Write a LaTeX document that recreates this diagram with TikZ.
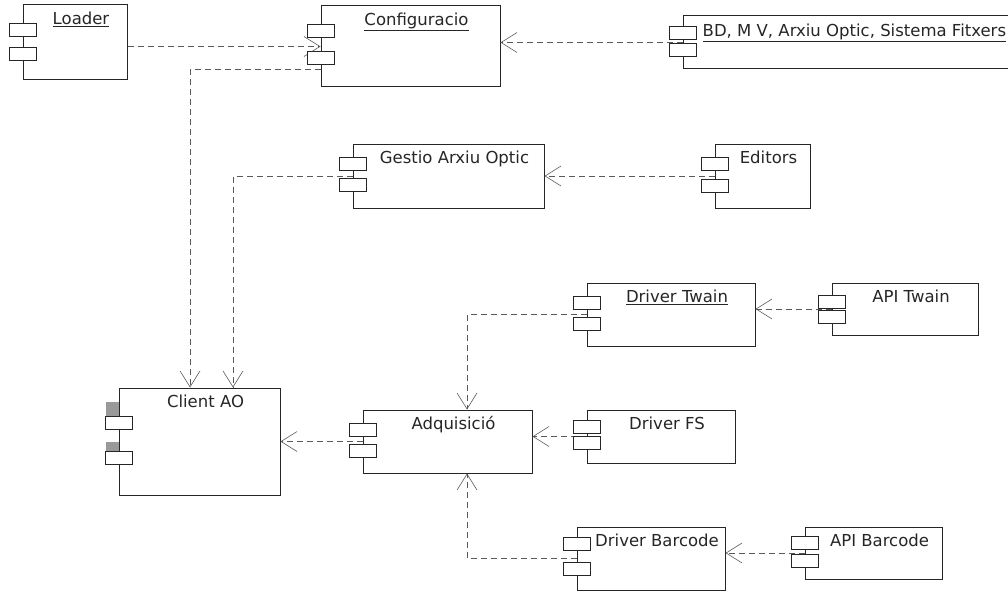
\documentclass[tikz,border=0pt]{standalone}
\usepackage{fontspec}
\setmainfont{DejaVu Sans}
\usepackage{tikz}
\usetikzlibrary{calc, positioning, arrows.meta}

\tikzset{
	comp/.style={draw=black!85, line width=1pt, fill=white, rectangle, inner sep=0pt},
	title/.style={anchor=north, inner sep=0pt, yshift=-7pt, xshift=6pt, text=black!85, font=\fontsize{16.5}{20}\selectfont},
	bdtitle/.style={anchor=north west, inner sep=0pt, yshift=-8pt, xshift=20pt, text=black!85, font=\fontsize{16.5}{20}\selectfont},
	port/.style={draw=black!85, line width=1pt, fill=white},
	dep/.style={draw=black!65, line width=0.8pt, dash pattern=on 6pt off 4pt, -{Straight Barb[length=16pt, width=20pt, line width=0.6pt]}}
}

\begin{document}
\begin{tikzpicture}[x=1pt, y=-1pt]
	
	\useasboundingbox (0,0) rectangle (1008,591);
	
	%// components
	\node[comp, minimum width=104pt, minimum height=75pt, label={[title]north:\underline{Loader}}] (loader) at (75,42.5) {};
	\node[comp, minimum width=179pt, minimum height=81pt, label={[title]north:\underline{Configuracio}}] (config) at (410.5,46.5) {};
	\node[comp, minimum width=357pt, minimum height=53pt, label={[bdtitle]north west:\underline{BD, M V, Arxiu Optic, Sistema Fitxers}}] (bd) at (861.5,42.5) {};
	\node[comp, minimum width=191pt, minimum height=64pt, label={[title]north:Gestio Arxiu Optic}] (gestio) at (448.5,176) {};
	\node[comp, minimum width=95pt, minimum height=64pt, label={[title]north:Editors}] (editors) at (762.5,176) {};
	\node[comp, minimum width=168pt, minimum height=63pt, label={[title]north:\underline{Driver Twain}}] (drvtw) at (671,314.5) {};
	\node[comp, minimum width=146pt, minimum height=52pt, label={[title]north:API Twain}] (apitw) at (905,309) {};
	\node[comp, minimum width=161pt, minimum height=107pt, label={[title]north:Client AO}] (client) at (199.5,441.5) {};
	\node[comp, minimum width=169pt, minimum height=63pt, label={[title]north:Adquisició}] (adq) at (447.5,441.5) {};
	\node[comp, minimum width=148pt, minimum height=53pt, label={[title]north:Driver FS}] (drvfs) at (661,436.5) {};
	\node[comp, minimum width=148pt, minimum height=63pt, label={[title]north:Driver Barcode}] (drvbc) at (651,558.5) {};
	\node[comp, minimum width=137pt, minimum height=52pt, label={[title]north:API Barcode}] (apibc) at (873.5,553) {};
	
	%// dependencies
	\draw[dep] (loader.east |- config.west) -- (config.west);
	\draw[dep] ($(config.south west)+(0,-18)$) -| ($(client.north)+(-9.5,0)$);
	\draw[dep] (bd.west) -- (bd.west -| config.east);
	\draw[dep] (gestio.west) -| ($(client.north)+(33.5,0)$);
	\draw[dep] (editors.west) -- (gestio.east);
	\draw[dep] (apitw.west) -- (apitw.west -| drvtw.east);
	\draw[dep] (drvtw.west) -| ($(adq.north)+(19.5,0)$);
	\draw[dep] (drvfs.west) -- (drvfs.west -| adq.east);
	\draw[dep] (drvbc.west) -| ($(adq.south)+(19.5,0)$);
	\draw[dep] (apibc.west) -- (apibc.west -| drvbc.east);
	\draw[dep] (adq.west) -- (client.east);
	
	%// grey tabs on Client AO
	\fill[black!40] ($(client.north west)+(-13,14)$) rectangle ($(client.north west)+(0,29)$);
	\fill[black!40] ($(client.north west)+(-13,54)$) rectangle ($(client.north west)+(0,64)$);
	
	%// ports
	\foreach \n/\a/\b in {loader/19/43, config/19/46, bd/11/28, gestio/14/35, editors/14/36, drvtw/14/35, apitw/13/28, client/29/64, adq/14/35, drvfs/11/27, drvbc/11/36, apibc/10/28}
	{
		\draw[port] ($(\n.north west)+(-13.5,\a)$) rectangle +(27,13);
		\draw[port] ($(\n.north west)+(-13.5,\b)$) rectangle +(27,13);
	}
	
\end{tikzpicture}
\end{document}
